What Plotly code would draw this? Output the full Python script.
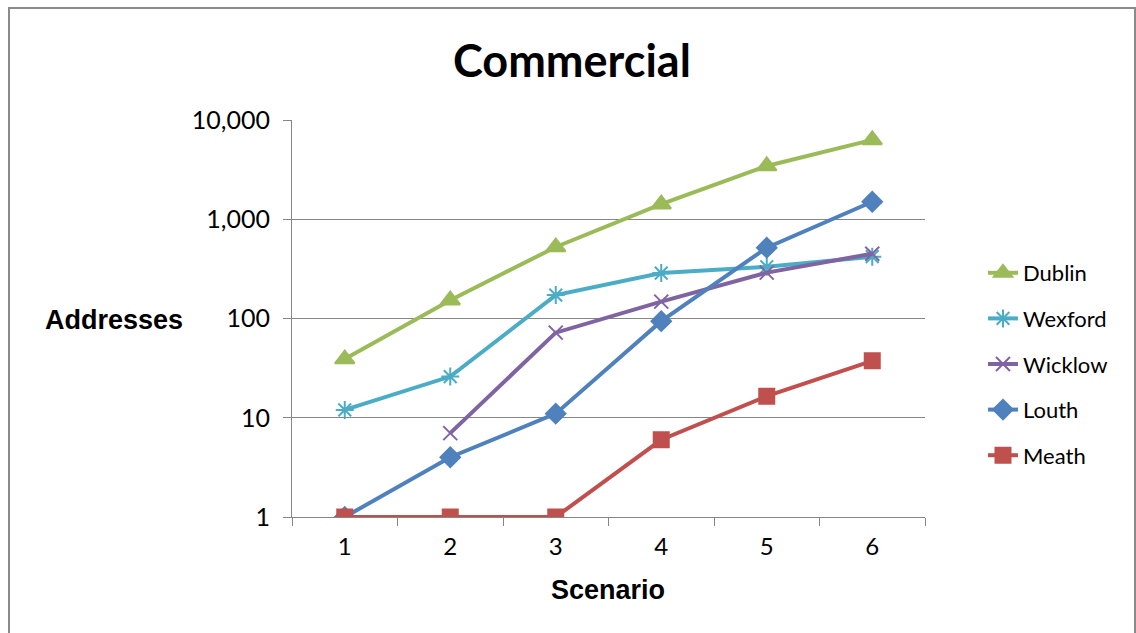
import plotly.graph_objects as go

scenarios = ["1", "2", "3", "4", "5", "6"]
dublin = [39, 153, 525, 1420, 3440, 6300]
wexford = [12, 26, 172, 287, 332, 420]
wicklow = [None, 7, 72, 148, 290, 450]
louth = [1, 4, 11, 94, 517, 1500]
meath = [1, 1, 1, 6, 16.5, 37.5]

series = [
    ("Dublin", dublin, "#9BBB59", "triangle-up", 17),
    ("Wexford", wexford, "#4BACC6", "asterisk-open", 15),
    ("Wicklow", wicklow, "#8064A2", "x-thin-open", 14),
    ("Louth", louth, "#4F81BD", "diamond", 15),
    ("Meath", meath, "#C0504D", "square", 15),
]

FONT = "Lato"
ARIAL = "Liberation Sans"
W, H = 1136, 633
L, R, T, B = 292, 925, 120, 517

fig = go.Figure()
for i, (name, vals, col, sym, sz) in enumerate(series):
    fig.add_trace(go.Scatter(
        x=scenarios, y=vals, name=name, mode="lines+markers",
        line=dict(color=col, width=4),
        marker=dict(symbol=sym, size=sz, color=col,
                    line=dict(color=col, width=2)),
        legendgroup=name, connectgaps=False,
    ))

def px_x(px):
    return (px - L) / (R - L)

def px_y(py):
    return (B - py) / (B - T)

fig.update_layout(
    width=W, height=H,
    margin=dict(l=L, r=W - R, t=T, b=H - B),
    paper_bgcolor="white", plot_bgcolor="white",
    font=dict(family=FONT, color="#000000", size=25),
    showlegend=True,
    legend=dict(x=px_x(983), y=px_y(252), xanchor="left", yanchor="top",
                font=dict(size=22, family=FONT), tracegroupgap=14,
                traceorder="grouped", bgcolor="rgba(0,0,0,0)"),
    xaxis=dict(type="category", range=[-0.5, 5.5], tickson="boundaries",
               ticks="outside", ticklen=8, tickcolor="#868686",
               showline=True, linecolor="#868686", linewidth=1,
               showgrid=False, zeroline=False, ticklabelstandoff=8,
               tickfont=dict(size=24, family=FONT)),
    yaxis=dict(type="log", range=[0, 4],
               tickvals=[1, 10, 100, 1000, 10000],
               ticktext=["1", "10", "100", "1,000", "10,000"],
               ticks="outside", ticklen=8, tickcolor="#868686",
               showline=True, linecolor="#868686", linewidth=1,
               showgrid=True, gridcolor="#868686", gridwidth=1,
               zeroline=False, ticklabelstandoff=8,
               tickfont=dict(size=25, family=FONT)),
    annotations=[
        dict(text="<b>Commercial</b>", x=px_x(572), y=px_y(60),
             xref="paper", yref="paper", showarrow=False,
             font=dict(size=45, family=FONT), xanchor="center", yanchor="middle"),
        dict(text="<b>Addresses</b>", x=px_x(114), y=px_y(320),
             xref="paper", yref="paper", showarrow=False,
             font=dict(size=27, family=ARIAL), xanchor="center", yanchor="middle"),
        dict(text="<b>Scenario</b>", x=px_x(608), y=px_y(590),
             xref="paper", yref="paper", showarrow=False,
             font=dict(size=27, family=ARIAL), xanchor="center", yanchor="middle"),
    ],
    shapes=[dict(type="rect", xref="paper", yref="paper",
                 x0=px_x(9), x1=px_x(1135), y0=px_y(650), y1=px_y(8),
                 line=dict(color="#8a8a8a", width=2), fillcolor="rgba(0,0,0,0)",
                 layer="below")],
)

fig.write_html("out.html")
